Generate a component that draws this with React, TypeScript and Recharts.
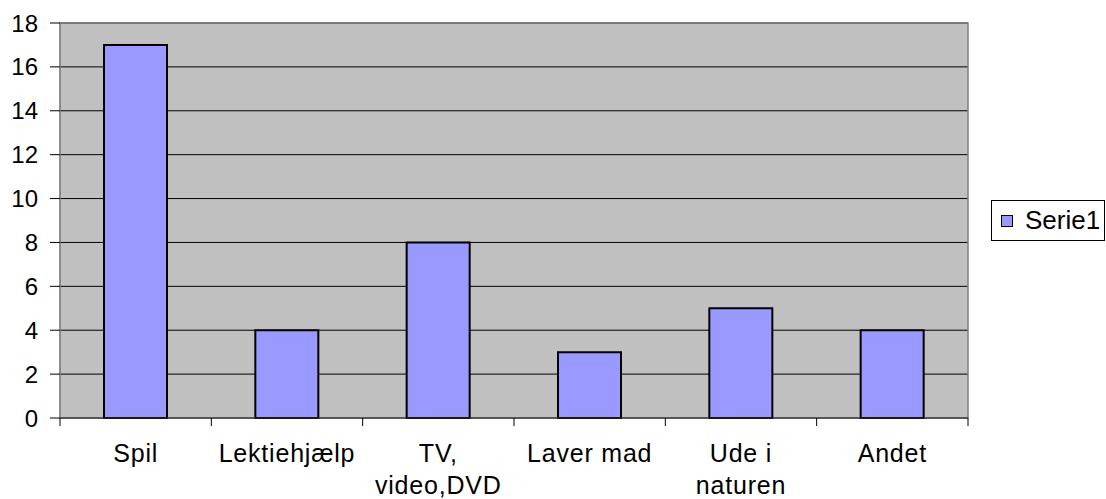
import { BarChart, Bar, XAxis, YAxis, CartesianGrid, ReferenceArea } from 'recharts';

const categories = ['Spil', 'Lektiehjælp', 'TV,\nvideo,DVD', 'Laver mad', 'Ude i\nnaturen', 'Andet'];
const serie1 = [17, 4, 8, 3, 5, 4];
const yTicks = [0, 2, 4, 6, 8, 10, 12, 14, 16, 18];
const seriesName = 'Serie1';

const data = categories.map((name, i) => ({ name, [seriesName]: serie1[i] }));

const FONT = "'Liberation Sans', Arial, sans-serif";

// category labels sit between boundary tick marks, like the old Excel look
function CategoryTick(props: any) {
  const { x, y, payload, index } = props;
  const half = payload?.offset || 908 / 12;
  const lines = String(payload.value).split('\n');
  return (
    <g>
      <line x1={x - half} x2={x - half} y1={y} y2={y + 8} stroke="#000" />
      {index === categories.length - 1 && (
        <line x1={x + half} x2={x + half} y1={y} y2={y + 8} stroke="#000" />
      )}
      <text
        x={x}
        y={y + 44}
        textAnchor="middle"
        fontSize={25}
        letterSpacing={0.8}
        fontFamily={FONT}
        fill="#000"
      >
        {lines.map((line, i) => (
          <tspan key={i} x={x} dy={i === 0 ? 0 : 32}>
            {line}
          </tspan>
        ))}
      </text>
    </g>
  );
}

function LegendBox() {
  return (
    <div
      style={{
        position: 'absolute',
        left: 991,
        top: 200,
        border: '1px solid #000',
        width: 114,
        height: 41,
        boxSizing: 'border-box',
        display: 'flex',
        alignItems: 'center',
        fontFamily: FONT,
        fontSize: 26,
        color: '#000',
        background: '#fff',
      }}
    >
      <span
        style={{
          display: 'inline-block',
          width: 10,
          height: 10,
          background: '#9999FF',
          border: '1px solid #000',
          marginLeft: 9,
          marginRight: 12,
        }}
      />
      {seriesName}
    </div>
  );
}

export default function App() {
  return (
    <div style={{ position: 'absolute', left: 0, top: 0, width: 1106, height: 499, background: '#fff' }}>
      <BarChart
        width={1106}
        height={499}
        data={data}
        margin={{ top: 23, right: 138, left: 0, bottom: 0 }}
      >
        <CartesianGrid vertical={false} stroke="#000" fill="#C0C0C0" fillOpacity={1} />
        <ReferenceArea y1={0} y2={18} fill="none" stroke="#808080" strokeWidth={1.5} />
        <XAxis
          dataKey="name"
          height={81}
          interval={0}
          axisLine={{ stroke: '#333' }}
          tickLine={false}
          tickSize={0}
          tickMargin={0}
          tick={<CategoryTick />}
        />
        <YAxis
          width={60}
          domain={[0, 18]}
          ticks={yTicks}
          interval={0}
          axisLine={{ stroke: '#808080' }}
          tickLine={{ stroke: '#000' }}
          tickSize={10}
          tickMargin={12}
          tick={{ fontSize: 24, fontFamily: FONT, fill: '#000' }}
        />
        <Bar
          dataKey={seriesName}
          fill="#9999FF"
          stroke="#000"
          strokeWidth={2}
          barSize={63}
          isAnimationActive={false}
        />
      </BarChart>
      <LegendBox />
    </div>
  );
}
